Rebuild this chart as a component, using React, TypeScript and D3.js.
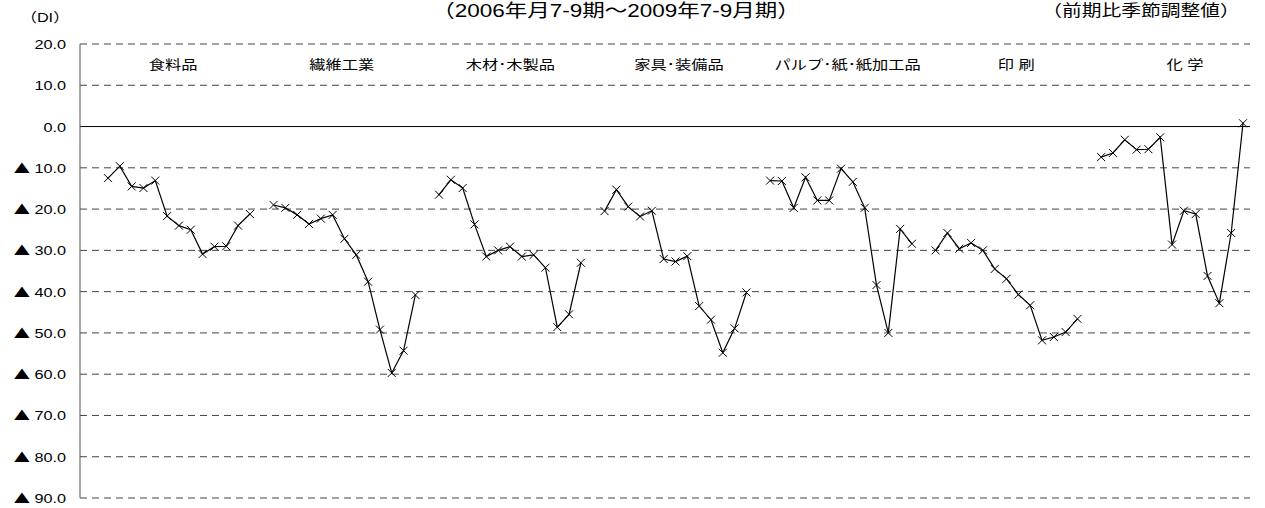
import React, { useEffect, useRef } from "react";
import * as d3 from "d3";

const industries = ["食料品", "繊維工業", "木材･木製品", "家具･装備品", "パルプ･紙･紙加工品", "印 刷", "化 学"];

const food = [-12.5, -9.6, -14.5, -14.9, -13.1, -21.7, -24.0, -25.0, -30.9, -29.1, -29.0, -24.0, -21.2];
const fiber = [-19.0, -19.7, -21.4, -23.6, -22.3, -21.4, -27.2, -31.1, -37.6, -49.2, -59.7, -54.3, -40.8];
const wood = [-16.5, -12.9, -14.9, -23.7, -31.5, -30.0, -29.1, -31.5, -31.1, -34.2, -48.6, -45.5, -33.0];
const furniture = [-20.5, -15.3, -19.4, -21.8, -20.4, -32.1, -32.7, -31.4, -43.5, -46.8, -54.8, -48.9, -40.2];
const pulp = [-13.1, -13.2, -19.7, -12.3, -17.9, -17.9, -10.2, -13.4, -19.7, -38.4, -50.0, -24.8, -28.4];
const printing = [-30.0, -25.8, -29.6, -28.2, -30.0, -34.5, -36.9, -40.7, -43.3, -51.8, -51.0, -49.8, -46.6];
const chemical = [-7.4, -6.4, -3.2, -5.6, -5.5, -2.6, -28.6, -20.4, -21.2, -36.2, -42.8, -25.8, 0.8];

const seriesList = [food, fiber, wood, furniture, pulp, printing, chemical];
const yTicks = [20, 10, 0, -10, -20, -30, -40, -50, -60, -70, -80, -90];

const W = 1265, H = 508;
const left = 80, right = 1250, top = 44, bottom = 498;
const perGroup = 14; // 13 quarters + 1 empty slot
const stretch = 1.25; // the original text is drawn a bit wide

const App = () => {
  const ref = useRef<SVGSVGElement>(null);

  useEffect(() => {
    if (!ref.current) return;
    const svg = d3.select(ref.current);
    svg.selectAll("*").remove();

    const font = "'Liberation Sans', 'Noto Sans CJK JP', sans-serif";
    const cjk = "'Noto Sans CJK JP', sans-serif";

    const y = d3.scaleLinear().domain([20, -90]).range([top, bottom]);
    const x = d3.scaleLinear().domain([0, perGroup * 6 + 12]).range([108, 1243]);
    const labelX = d3.scaleLinear().domain([0, industries.length - 1]).range([173, 1185]);

    const wideText = (tx: number, ty: number, size: number, anchor: string, str: string) =>
      svg.append("text")
        .attr("transform", `translate(${tx},${ty}) scale(${stretch},1)`)
        .attr("text-anchor", anchor)
        .attr("font-family", font)
        .attr("font-size", size)
        .text(str);

    // grid lines
    svg.append("g")
      .selectAll("line")
      .data(yTicks)
      .join("line")
      .attr("x1", left)
      .attr("x2", right)
      .attr("y1", d => y(d))
      .attr("y2", d => y(d))
      .attr("stroke", d => (d === 0 ? "#000" : "#444"))
      .attr("stroke-width", 1)
      .attr("stroke-dasharray", d => (d === 0 ? null : "7,5"));

    // y axis
    svg.append("line")
      .attr("x1", left).attr("x2", left)
      .attr("y1", top).attr("y2", bottom)
      .attr("stroke", "#555");

    // tick labels, negative values shown with a triangle
    yTicks.forEach(t => {
      const txt = wideText(66, y(t) + 5, 13, "end", "");
      if (t < 0) {
        txt.append("tspan").attr("font-family", cjk).attr("font-size", 13).text("▲");
        txt.append("tspan").text(" " + Math.abs(t).toFixed(1));
      } else {
        txt.text(t.toFixed(1));
      }
    });

    // titles
    wideText(45, 22, 13, "middle", "（DI）");
    wideText(616, 17, 18, "middle", "（2006年月7-9期〜2009年7-9月期）");
    wideText(1141, 16, 15.8, "middle", "（前期比季節調整値）");

    // industry labels
    industries.forEach((name, i) => wideText(labelX(i), 69, 13, "middle", name));

    const line = d3.line<number>()
      .x((d, i) => x(i))
      .y(d => y(d));

    seriesList.forEach((vals, g) => {
      const grp = svg.append("g").attr("transform", `translate(${x(g * perGroup) - x(0)},0)`);
      grp.append("path")
        .datum(vals)
        .attr("d", line)
        .attr("fill", "none")
        .attr("stroke", "#000")
        .attr("stroke-width", 1.2);
      const s = 4;
      grp.selectAll("path.mk")
        .data(vals)
        .join("path")
        .attr("class", "mk")
        .attr("d", (d, i) => {
          const cx = x(i), cy = y(d);
          return `M${cx - s},${cy - s}L${cx + s},${cy + s}M${cx - s},${cy + s}L${cx + s},${cy - s}`;
        })
        .attr("stroke", "#000")
        .attr("stroke-width", 1);
    });
  }, []);

  return (
    <svg ref={ref} width={W} height={H} style={{ position: "absolute", left: 0, top: 0, background: "#fff" }} />
  );
};

export default App;
